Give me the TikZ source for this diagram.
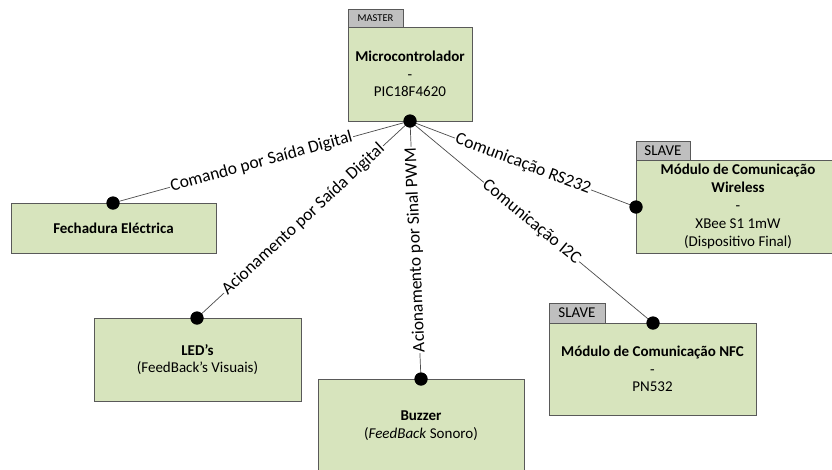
\documentclass[tikz,border=0pt]{standalone}
\usepackage{fontspec}
\setmainfont{Carlito}
\begin{document}
\begin{tikzpicture}[x=1pt,y=-1pt,
  box/.style={draw=black!65, line width=0.9pt, fill=boxgreen, align=center,
    inner sep=0pt, font=\fontsize{15}{17.5}\selectfont, text=black},
  tab/.style={draw=black!65, line width=0.9pt, fill=black!25, inner sep=0pt},
  dot/.style={circle, fill=black, inner sep=0pt, minimum size=13pt},
  link/.style={draw=black!70, line width=0.7pt},
  lbl/.style={midway, sloped, fill=white, inner sep=1pt,
    font=\fontsize{17.5}{19}\selectfont}]
\definecolor{boxgreen}{RGB}{215,228,189}
\useasboundingbox (0,0) rectangle (832,469);
\clip (0,0) rectangle (832,469);
\fill[white] (0,0) rectangle (832,469);

% master unit
\node[tab, minimum width=55pt, minimum height=18pt,
  font=\fontsize{10.5}{12}\selectfont] (mctab) at (375.5,18) {MASTER};
\node[box, minimum width=124pt, minimum height=94pt] (mc) at (410,74)
  {\textbf{Microcontrolador}\\-\\PIC18F4620};

% peripherals
\node[box, minimum width=205pt, minimum height=50pt] (fech) at (113.5,228)
  {\textbf{Fechadura Eléctrica}};
\node[tab, minimum width=54pt, minimum height=19pt,
  font=\fontsize{15}{16}\selectfont] (wltab) at (663,150.5) {SLAVE};
\node[box, minimum width=204pt, minimum height=93pt,
  font=\fontsize{15}{18.2}\selectfont] (wl) at (738,206.5)
  {\textbf{Módulo de Comunicação}\\\textbf{Wireless}\\-\\XBee S1 1mW\\(Dispositivo Final)};
\node[box, minimum width=207pt, minimum height=83pt] (led) at (197.5,359.5)
  {\textbf{LED’s}\\(FeedBack’s Visuais)};
\node[box, minimum width=206pt, minimum height=93pt] (bz) at (421,425.5)
  {\textbf{Buzzer}\\(\textit{FeedBack} Sonoro)};
\node[tab, minimum width=56pt, minimum height=20pt,
  font=\fontsize{15}{16}\selectfont] (nfctab) at (577,313) {SLAVE};
\node[box, minimum width=207pt, minimum height=92pt] (nfc) at (652.5,369)
  {\textbf{Módulo de Comunicação NFC}\\-\\PN532};

% connection points
\node[dot] (dmc) at (410,121) {};
\node[dot] (dfech) at (113,203) {};
\node[dot] (dwl) at (636,207) {};
\node[dot] (dled) at (197,318) {};
\node[dot] (dbz) at (421,379) {};
\node[dot] (dnfc) at (653,323) {};

% links
\draw[link] (dmc.center) -- (dfech.center) node[lbl] {Comando por Saída Digital};
\draw[link] (dmc.center) -- (dled.center) node[lbl] {Acionamento por Saída Digital};
\draw[link] (dbz.center) -- (dmc.center) node[lbl, allow upside down] {Acionamento por Sinal PWM};
\draw[link] (dmc.center) -- (dwl.center) node[lbl] {Comunicação RS232};
\draw[link] (dmc.center) -- (dnfc.center) node[lbl] {Comunicação I2C};

% redraw dots over the lines
\foreach \d in {dmc,dfech,dwl,dled,dbz,dnfc}
  \fill (\d.center) circle (6.5pt);
\end{tikzpicture}
\end{document}
